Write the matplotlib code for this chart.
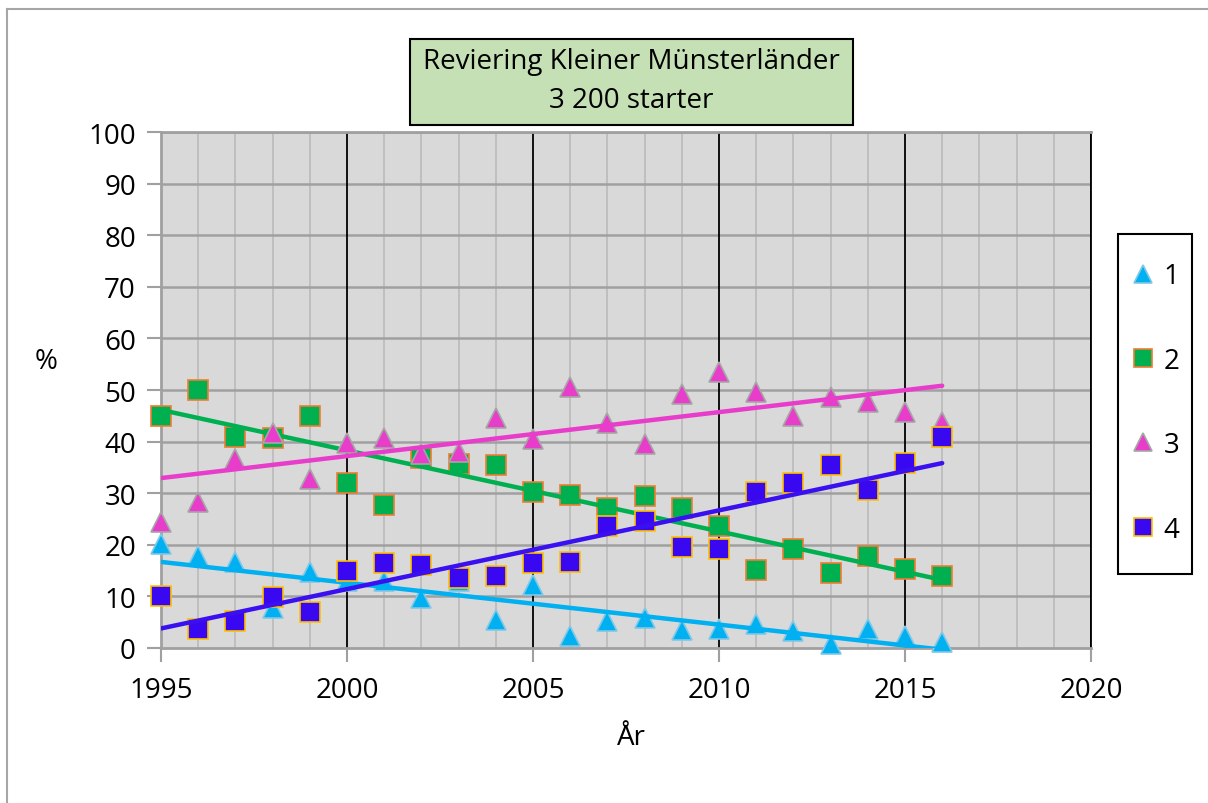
import numpy as np
import matplotlib
matplotlib.use("Agg")
import matplotlib.pyplot as plt
from matplotlib.patches import Rectangle
from matplotlib.lines import Line2D

plt.rcParams['font.family'] = ['Open Sans', 'DejaVu Sans']

years = list(range(1995, 2017))
s1 = [20.2, 17.8, 16.7, 7.8, 14.7, 13.0, 13.0, 9.7, 13.0, 5.4, 12.2, 2.4, 5.3, 5.9, 3.4, 3.6, 4.7, 3.2, 0.8, 3.6, 2.4, 1.2]
s2 = [45.0, 50.0, 40.9, 40.7, 45.0, 32.0, 27.8, 36.9, 35.7, 35.5, 30.3, 29.6, 27.1, 29.4, 27.1, 23.6, 15.2, 19.2, 14.5, 17.9, 15.3, 14.0]
s3 = [24.4, 28.2, 36.6, 41.7, 32.8, 39.7, 40.7, 37.6, 37.9, 44.5, 40.6, 50.5, 43.7, 39.5, 49.2, 53.4, 49.6, 45.0, 48.6, 47.6, 45.7, 43.8]
s4 = [10.1, 3.6, 5.2, 9.9, 6.9, 15.0, 16.4, 16.0, 13.6, 14.0, 16.4, 16.6, 23.7, 24.6, 19.6, 19.1, 30.3, 32.0, 35.5, 30.7, 35.8, 40.8]
labels = ['1', '2', '3', '4']
title_lines = ['Reviering Kleiner Münsterländer', '3 200 starter']

W, H = 1208, 804
fig = plt.figure(figsize=(W / 100, H / 100), dpi=100)
ax = fig.add_axes([161 / W, 1 - 649 / H, 930 / W, 516 / H])
ax.set_facecolor('#D9D9D9')

styles = [
    dict(marker='^', color='#00B0F0', mec='#7FC8E8', line='#00B0F0'),
    dict(marker='s', color='#00B050', mec='#ED7D31', line='#00B050'),
    dict(marker='^', color='#E83CCB', mec='#A6A6A6', line='#E83CCB'),
    dict(marker='s', color='#3A08F0', mec='#FFC000', line='#3A10F0'),
]
series = [s1, s2, s3, s4]
x = np.array(years, dtype=float)
handles = []
for i, (ys, st) in enumerate(zip(series, styles)):
    ys = np.array(ys)
    ax.plot(x, ys, linestyle='none', marker=st['marker'], markersize=15,
            markerfacecolor=st['color'], markeredgecolor=st['mec'],
            markeredgewidth=1.2, zorder=3 + 2 * i, clip_on=False)
    k, b = np.polyfit(x, ys, 1)
    xx = np.array([x.min(), x.max()])
    yy = k * xx + b
    ax.plot(xx, yy, color=st['line'], linewidth=3.2, zorder=4 + 2 * i,
            solid_capstyle='round')
    handles.append(Line2D([], [], linestyle='none', marker=st['marker'], markersize=13,
                          markerfacecolor=st['color'], markeredgecolor=st['mec'],
                          markeredgewidth=1.2))

ax.set_xlim(1995, 2020)
ax.set_ylim(0, 100)
ax.set_xticks(range(1995, 2021, 5))
ax.set_xticks(range(1995, 2021, 1), minor=True)
ax.set_yticks(range(0, 101, 10))

# gridlines
for yr in range(1996, 2020):
    if yr % 5 != 0:
        ax.axvline(yr, color='#BDBDBD', linewidth=1.3, zorder=1)
for yv in range(10, 101, 10):
    ax.axhline(yv, color='#A0A0A0', linewidth=1.8, zorder=1.2)
for yr in range(2000, 2021, 5):
    ax.axvline(yr, color='#000000', linewidth=1.3, zorder=1.5)

for side in ['left', 'bottom', 'top']:
    ax.spines[side].set_color('#A0A0A0')
    ax.spines[side].set_linewidth(2)
ax.spines['right'].set_color('#000000')
ax.spines['right'].set_linewidth(1.3)

ax.tick_params(axis='both', which='major', length=10, width=1.5, color='#A0A0A0',
               labelsize=20, pad=8)
ax.tick_params(axis='x', which='minor', length=0)
ax.tick_params(axis='x', which='major', pad=10)

# y label and x label
fig.text(46 / W, 1 - 362 / H, '%', fontsize=20, ha='center', va='center')
fig.text(631 / W, 1 - 738 / H, 'År', fontsize=20, ha='center', va='center')

# title box
fig.patches.append(Rectangle((410 / W, 1 - 126 / H), 443 / W, 86 / H,
                             transform=fig.transFigure, facecolor='#C5E0B4',
                             edgecolor='#000000', linewidth=1.5, zorder=1))
fig.text(631 / W, 1 - 62 / H, title_lines[0], fontsize=20, ha='center', va='center', zorder=2)
fig.text(631 / W, 1 - 101 / H, title_lines[1], fontsize=20, ha='center', va='center', zorder=2)

# legend box
fig.patches.append(Rectangle((1118 / W, 1 - 575 / H), 74 / W, 340 / H,
                             transform=fig.transFigure, facecolor='white',
                             edgecolor='#000000', linewidth=1.5, zorder=1))
fig.legend(handles, labels, loc='center', bbox_to_anchor=(1155 / W, 1 - 404 / H),
           frameon=False, fontsize=20, labelspacing=2.03, handlelength=0.9,
           handletextpad=0.3, borderpad=0)

# outer frame
fig.add_artist(Line2D([7 / W, 7 / W], [0, 1 - 10 / H], transform=fig.transFigure,
                      color='#A6A6A6', linewidth=1.5))
fig.add_artist(Line2D([7 / W, 1], [1 - 10 / H, 1 - 10 / H], transform=fig.transFigure,
                      color='#A6A6A6', linewidth=1.5))

fig.savefig('out.png', dpi=100)
